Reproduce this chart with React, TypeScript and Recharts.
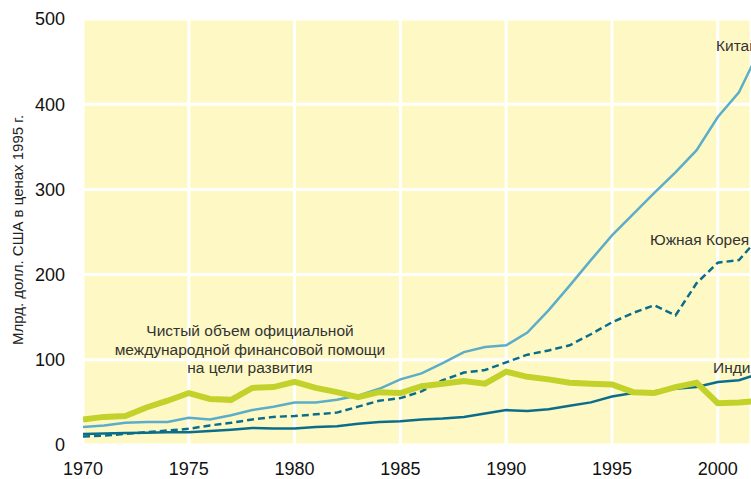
import { LineChart, Line, XAxis, YAxis, CartesianGrid, Customized } from 'recharts';

const years = [
  1970, 1971, 1972, 1973, 1974, 1975, 1976, 1977, 1978, 1979,
  1980, 1981, 1982, 1983, 1984, 1985, 1986, 1987, 1988, 1989,
  1990, 1991, 1992, 1993, 1994, 1995, 1996, 1997, 1998, 1999,
  2000, 2001, 2002,
];
const aid = [
  30, 33, 34, 44, 52, 61, 54, 53, 67, 68,
  74, 67, 62, 56, 62, 61, 69, 72, 75, 72,
  86, 80, 77, 73, 72, 71, 62, 61, 68, 73,
  49, 50, 52,
];
const china = [
  21, 23, 26, 27, 27, 32, 30, 35, 41, 45,
  50, 50, 53, 58, 66, 77, 84, 96, 109, 115,
  117, 132, 158, 187, 217, 246, 271, 296, 320, 346,
  385, 414, 465,
];
const korea = [
  10, 11, 13, 15, 17, 19, 23, 26, 30, 33,
  34, 36, 38, 45, 52, 55, 63, 76, 85, 88,
  97, 106, 111, 117, 130, 144, 155, 164, 152, 190,
  214, 217, 245,
];
const india = [
  13, 13.5, 14, 14.5, 15, 15, 16.5, 18, 20, 19.5,
  19.5, 21, 22, 25, 27, 28, 30, 31, 33, 37,
  41, 40, 42, 46, 50, 57, 61, 63, 66, 68,
  74, 76, 84,
];
const xTicks = [1970, 1975, 1980, 1985, 1990, 1995, 2000];
const yTicks = [0, 100, 200, 300, 400, 500];

const data = years.map((year, i) => ({
  year,
  aid: aid[i],
  china: china[i],
  korea: korea[i],
  india: india[i],
}));

const font = 'Liberation Sans, Arial, sans-serif';

const Notes = () => (
  <g fontFamily={font} fontSize={15.5} fill="#333">
    <text x={716} y={51}>Китай</text>
    <text x={650} y={245}>Южная Корея</text>
    <text x={713} y={373}>Индия</text>
    <text textAnchor="middle">
      <tspan x={250} y={336}>Чистый объем официальной</tspan>
      <tspan x={250} y={355}>международной финансовой помощи</tspan>
      <tspan x={250} y={373}>на цели развития</tspan>
    </text>
    <text
      transform="translate(23,230) rotate(-90)"
      textAnchor="middle"
      fontSize={15}
      fill="#222"
    >
      Млрд. долл. США в ценах 1995 г.
    </text>
  </g>
);

const App = () => {
  return (
    <div style={{ position: 'absolute', left: 0, top: 0, width: 751, height: 479, overflow: 'hidden' }}>
      <LineChart
        width={751}
        height={479}
        data={data}
        margin={{ top: 19, right: 0, bottom: 0, left: 0 }}
      >
        <CartesianGrid fill="#fef9c4" stroke="#ffffff" strokeWidth={3} />
        <XAxis
          dataKey="year"
          type="number"
          domain={[1970, 2001.57]}
          allowDataOverflow
          ticks={xTicks}
          height={34}
          axisLine={false}
          tickLine={false}
          tickSize={0}
          tickMargin={17}
          tick={{ fill: '#111', fontSize: 18, fontFamily: font }}
        />
        <YAxis
          domain={[0, 500]}
          ticks={yTicks}
          width={83}
          axisLine={false}
          tickLine={false}
          tickSize={0}
          tickMargin={18}
          tick={{ fill: '#111', fontSize: 18, fontFamily: font }}
        />
        <Line dataKey="india" stroke="#0b6d8c" strokeWidth={2.5} dot={false} isAnimationActive={false} />
        <Line dataKey="korea" stroke="#0b6d8c" strokeWidth={2.5} strokeDasharray="7 4" dot={false} isAnimationActive={false} />
        <Line dataKey="china" stroke="#5badc9" strokeWidth={2.5} dot={false} isAnimationActive={false} />
        <Line dataKey="aid" stroke="#c2d22a" strokeWidth={6} dot={false} isAnimationActive={false} />
        <Customized component={Notes} />
      </LineChart>
    </div>
  );
};

export default App;
